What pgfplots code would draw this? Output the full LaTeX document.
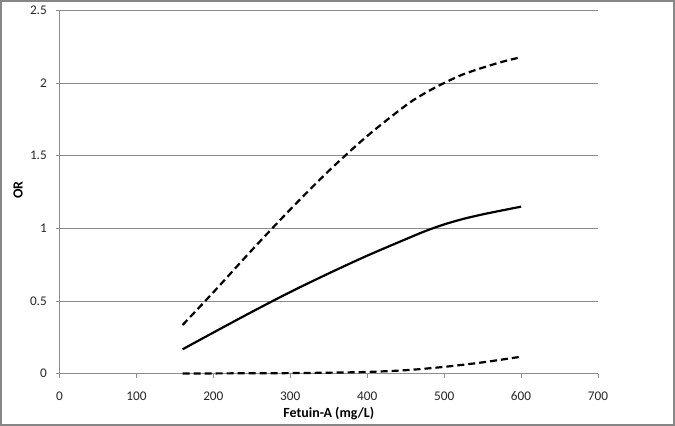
\documentclass[border=0pt]{standalone}
\usepackage{pgfplots}
\pgfplotsset{compat=1.18}
\usepackage{fontspec}
\setmainfont{Carlito}
\definecolor{gridgray}{HTML}{8C8C8C}
\definecolor{framegray}{HTML}{868686}
\begin{document}
\begin{tikzpicture}[font=\fontsize{13.3}{16}\selectfont]
\useasboundingbox (0,0) rectangle (675bp,426bp);
\draw[framegray, line width=1.5bp] (1bp,1bp) rectangle (674bp,425bp);
\begin{axis}[
  at={(59.5bp,52.3bp)}, anchor=origin,
  scale only axis, width=538.5bp, height=363.4bp,
  xmin=0, xmax=700, ymin=0, ymax=2.5,
  xtick={0,100,...,700}, ytick={0,0.5,1,1.5,2,2.5},
  axis x line=bottom, axis y line=left,
  axis line style={-, gridgray, line width=0.8bp},
  tick style={gridgray, line width=0.8bp},
  major tick length=4bp, tick align=outside,
  ymajorgrids, grid style={gridgray, line width=0.8bp},
  /pgf/number format/assume math mode=true,
  every tick label/.append style={font=\fontsize{13.3}{16}\selectfont, text=black!85},
  yticklabel style={anchor=east, inner sep=0pt, xshift=-8.5bp},
  xticklabel style={anchor=north, inner sep=0pt, yshift=-14bp},
  xlabel={Fetuin-A (mg/L)},
  ylabel={OR},
  every axis label/.append style={font=\fontsize{14}{17}\selectfont\bfseries},
  xlabel style={at={(axis description cs:0.5,0)}, anchor=center, yshift=-39.5bp},
  ylabel style={at={(axis description cs:0,0.505)}, anchor=center, rotate=0, yshift=41.5bp},
  clip=false,
]
\addplot[black, line width=2.2bp, dash pattern=on 7bp off 4bp, smooth] coordinates {
(160,0.335) (200,0.56) (250,0.85) (300,1.13) (350,1.395) (400,1.635) (450,1.845) (475,1.93) (500,2.0) (525,2.06) (550,2.105) (575,2.145) (600,2.178)
};
\addplot[black, line width=2.2bp, smooth] coordinates {
(160,0.168) (200,0.283) (250,0.425) (300,0.562) (350,0.69) (400,0.812) (450,0.925) (475,0.98) (500,1.027) (525,1.065) (550,1.096) (575,1.123) (600,1.149)
};
\addplot[black, line width=2.2bp, dash pattern=on 7bp off 4bp, smooth] coordinates {
(160,0.002) (200,0.002) (250,0.003) (300,0.004) (350,0.007) (400,0.012) (450,0.024) (500,0.047) (550,0.078) (600,0.117)
};
\end{axis}
\end{tikzpicture}
\end{document}
